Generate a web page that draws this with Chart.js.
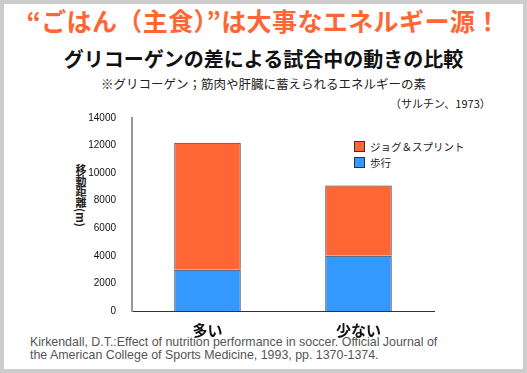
<!DOCTYPE html>
<html>
<head>
<meta charset="utf-8">
<script src="https://cdn.jsdelivr.net/npm/chart.js@4"></script>
<style>
  body { margin: 0; background: #cccccc; width: 527px; height: 373px; overflow: hidden; font-family: "Noto Sans CJK JP", sans-serif; }
  #panel { position: absolute; left: 4px; top: 4px; width: 519px; height: 365px; background: #fff; }
  .t { position: absolute; white-space: nowrap; }
  #title { left: 0; width: 527px; top: 2px; text-align: center; color: #ff6633; font-size: 25px; font-weight: bold; letter-spacing: 0.4px; }
  #sub { left: 0; width: 527px; top: 44px; text-align: center; color: #111; font-size: 20px; font-weight: bold; }
  #note { left: 0; width: 527px; top: 74px; text-align: center; color: #222; font-size: 12.5px; }
  #src { left: 390px; top: 95px; color: #222; font-size: 11px; }
  #ytitle { left: 75px; top: 164px; writing-mode: vertical-rl; font-size: 11px; line-height: 12px; font-weight: bold; color: #222; }
  #legend { left: 354px; top: 141px; font-size: 10.5px; color: #222; }
  #legend div { height: 16px; line-height: 12px; }
  #legend span.box { display: inline-block; width: 9px; height: 9px; border: 1px solid #333; margin-right: 5px; vertical-align: -1px; }
  #cite { left: 30px; top: 336px; color: #555; font-family: "Liberation Sans", Arial, sans-serif; font-size: 12.4px; line-height: 13px; }
  canvas { position: absolute; left: 0; top: 0; }
</style>
</head>
<body>
<div id="panel"></div>
<div class="t" id="title">“ごはん（主食）”は大事なエネルギー源！</div>
<div class="t" id="sub">グリコーゲンの差による試合中の動きの比較</div>
<div class="t" id="note">※グリコーゲン；筋肉や肝臓に蓄えられるエネルギーの素</div>
<div class="t" id="src">（サルチン、1973）</div>
<div class="t" id="ytitle">移動距離(m)</div>
<div class="t" id="legend"></div>
<div class="t" id="cite">Kirkendall, D.T.:Effect of nutrition performance in soccer. Official Journal of<br>the American College of Sports Medicine, 1993, pp. 1370-1374.</div>
<canvas id="barChart" width="527" height="373"></canvas>
<script>
var categories = ['多い', '少ない']
var walking    = [3000, 4000]
var jogSprint  = [9200, 5100]
var seriesNames = ['歩行', 'ジョグ＆スプリント']
var seriesColors = ['#3399ff', '#ff6633']

// legend (jog first, like the original)
var legendEl = document.getElementById('legend')
;[1, 0].forEach(function (i) {
  var row = document.createElement('div')
  row.innerHTML = '<span class="box" style="background:' + seriesColors[i] + '"></span>' + seriesNames[i]
  legendEl.appendChild(row)
})

var ctx = document.getElementById('barChart').getContext('2d')
var barChart = new Chart(ctx, {
  type: 'bar',
  data: {
    labels: categories,
    datasets: [
      { label: seriesNames[0], data: walking, backgroundColor: seriesColors[0], borderColor: '#333', borderWidth: 1 },
      { label: seriesNames[1], data: jogSprint, backgroundColor: seriesColors[1], borderColor: '#333', borderWidth: 1 }
    ]
  },
  options: {
    responsive: false,
    animation: false,
    layout: { padding: { left: 0, right: 93, top: 118, bottom: 30 } },
    plugins: { legend: { display: false }, tooltip: { enabled: false } },
    datasets: { bar: { categoryPercentage: 1, barPercentage: 0.44 } },
    scales: {
      x: {
        stacked: true,
        grid: { display: false },
        border: { color: '#333', width: 1 },
        ticks: { color: '#111', padding: 2, font: { size: 15, weight: 'bold', family: '"Noto Sans CJK JP"' } },
        afterFit: function (s) { s.height = 32 }
      },
      y: {
        stacked: true,
        min: 0, max: 14000,
        grid: { display: false },
        border: { color: '#999', width: 2 },
        ticks: {
          stepSize: 2000, color: '#111', padding: 8,
          font: { size: 10, family: '"Liberation Sans", Arial' },
          callback: function (v) { return String(v) }
        },
        afterFit: function (s) { s.width = 132 }
      }
    }
  }
})
</script>
</body>
</html>
